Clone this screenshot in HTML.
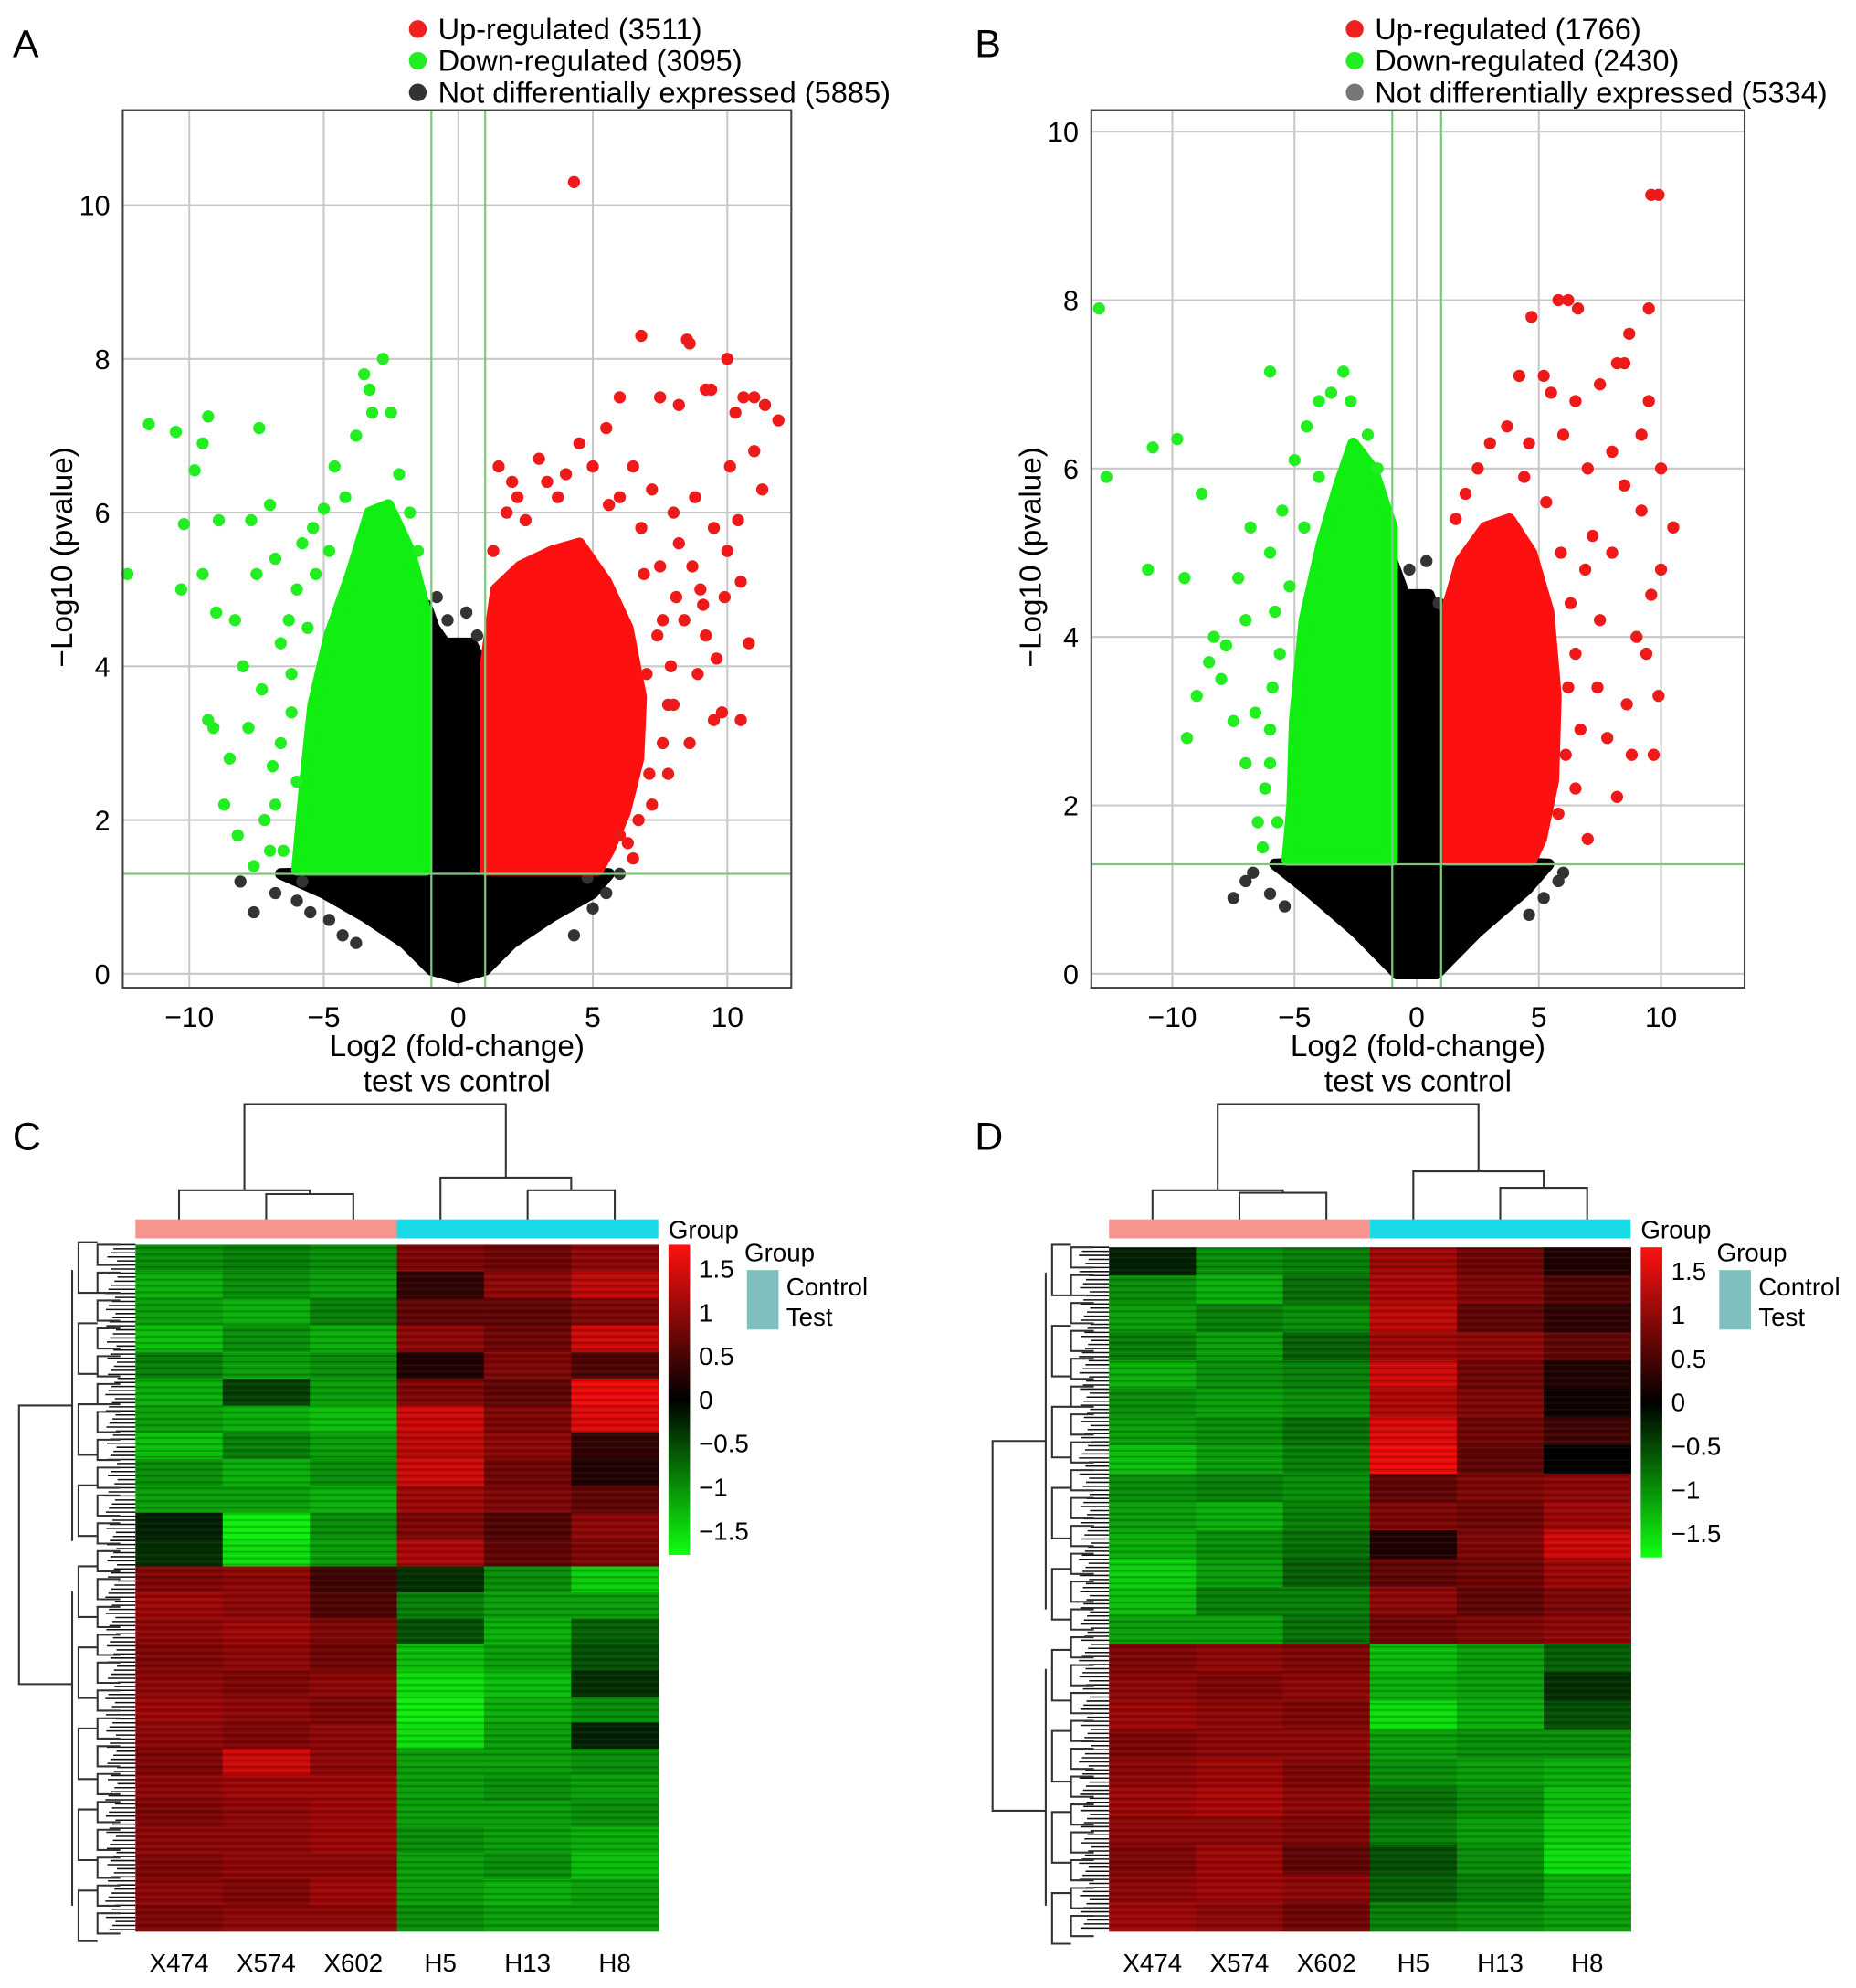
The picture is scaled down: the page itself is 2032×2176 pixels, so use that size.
<!DOCTYPE html>
<html><head><meta charset="utf-8"><style>
html,body{margin:0;padding:0;background:#fff}
svg{display:block;font-family:"Liberation Sans",Arial,sans-serif}
</style></head><body>
<svg id="fig" width="2032" height="2176" viewBox="0 0 1466 1570" preserveAspectRatio="none" xmlns="http://www.w3.org/2000/svg">
<defs>
<pattern id="stripes" width="6" height="5" patternUnits="userSpaceOnUse"><rect x="0" y="0" width="6" height="1.2" fill="#000" opacity="0.22"/><rect x="0" y="2.8" width="6" height="0.8" fill="#fff" opacity="0.06"/></pattern>
<linearGradient id="cbar" x1="0" y1="0" x2="0" y2="1"><stop offset="0" stop-color="#ff1010"/><stop offset="0.5" stop-color="#000"/><stop offset="1" stop-color="#10ff10"/></linearGradient>
</defs>
<g id="root"></g>
</svg>
<script>
// ---------- Volcano A data ----------
const volA_upPts=[[4.3,10.3],[6.8,8.3],[8.5,8.25],[8.6,8.2],[9.2,7.6],[9.4,7.6],[10,8],[10.3,7.3],[10.6,7.5],[11,7.5],[11.4,7.4],[11.9,7.2],[7.5,7.5],[6,7.5],[8.2,7.4],[10.1,6.6],[11,6.8],[10.8,4.3],[9.5,3.3],[9.8,3.4],[10.5,3.3],[8,3.5],[6.5,1.5],[9,5],[10,5.5],[1.5,6.6],[2,6.4],[3,6.7],[4.5,6.9],[5.5,7.1],[6.5,6.6],[7.2,6.3],[8,6],[8.8,6.2],[9.5,5.8],[10.4,5.9],[9.2,4.4],[8.4,4.6],[7.8,2.6],[8.6,3],[7.2,2.2],[6,1.8],[9.9,4.9],[10.5,5.1],[11.3,6.3],[7.5,5.3],[8.2,5.6],[6.8,5.8],[5.6,6.1],[2.5,5.9],[3.7,6.2],[7,3.9],[7.6,4.6],[8.9,3.9],[9.6,4.1],[1.3,5.5],[1.8,6],[2.2,6.2],[3.3,6.4],[4,6.5],[5,6.6],[6,6.2],[6.9,5.2],[7.4,4.4],[7.8,3.5],[7.6,3],[7.1,2.6],[6.7,2],[6.3,1.7],[7.9,4],[8.1,4.9],[8.7,5.3],[9.1,4.8]];
const volA_downPts=[[-12.3,5.2],[-11.5,7.15],[-10.5,7.05],[-9.3,7.25],[-9.8,6.55],[-9.5,6.9],[-7.4,7.1],[-10.2,5.85],[-10.3,5],[-9.5,5.2],[-9,4.7],[-9.3,3.3],[-9.1,3.2],[-8.7,2.2],[-8.2,1.8],[-7.6,1.4],[-2.8,8],[-3.5,7.8],[-3.3,7.6],[-7,6.1],[-5,6.05],[-8,4],[-6,5],[-7.5,5.2],[-8.3,4.6],[-6.6,4.3],[-7.8,3.2],[-6.9,2.7],[-7.2,2],[-6.5,1.6],[-8.5,2.8],[-7.3,3.7],[-6.2,3.4],[-5.8,5.6],[-4.6,6.6],[-3.8,7],[-3.2,7.3],[-2.5,7.3],[-7.7,5.9],[-6.8,5.4],[-8.9,5.9],[-6,2.5],[-6.3,4.6],[-2.2,6.5],[-1.8,6],[-1.5,5.5],[-4.2,6.2],[-5.3,5.2],[-5.6,4.5],[-6.2,3.9],[-6.6,3],[-6.8,2.2],[-7,1.6],[-5.4,5.8],[-4.8,5.5]];
const volA_nsPts=[[-8.1,1.2],[-7.6,0.8],[-6.8,1.05],[-6,0.95],[-5.5,0.8],[-4.8,0.7],[-5.8,1.2],[5.5,1.05],[6,1.3],[5,0.85],[4.3,0.5],[4.8,1.25],[-4.3,0.5],[-3.8,0.4],[-0.4,4.6],[0.3,4.7],[-0.8,4.9],[0.7,4.4]];
const volA_upCore=[[1,1.35],[1,4],[1.4,5],[2.3,5.3],[3.5,5.5],[4.5,5.6],[5.5,5.1],[6.3,4.5],[6.8,3.6],[6.7,2.8],[6.2,2.1],[5.6,1.6],[5.2,1.35]];
const volA_downCore=[[-1.2,1.35],[-1.2,4.7],[-1.8,5.5],[-2.6,6.1],[-3.3,6],[-4,5.2],[-4.8,4.4],[-5.4,3.5],[-5.7,2.5],[-6,1.35]];
const volA_nsCore=[[-6.6,1.3],[-5,1.05],[-3.5,0.75],[-2,0.4],[-1,0.05],[0,-0.05],[1,0.05],[2,0.4],[3.5,0.75],[5,1.05],[5.6,1.3],[1,1.35],[0.9,4],[0.5,4.3],[-0.5,4.3],[-0.9,4.5],[-1.2,4.8],[-1.3,1.35]];
// ---------- Volcano B data ----------
const volB_upPts=[[9.6,9.25],[9.9,9.25],[5.8,8],[6.2,8],[6.6,7.9],[9.5,7.9],[4.7,7.8],[8.7,7.6],[8.2,7.25],[8.5,7.25],[4.2,7.1],[5.2,7.1],[7.5,7],[5.5,6.9],[6.5,6.8],[9.5,6.8],[10,6],[10.5,5.3],[10,4.8],[9.9,3.3],[9.7,2.6],[8.2,2.1],[7,1.6],[7.5,4.2],[8,5],[9,4],[7,6],[3,6.3],[2.5,6],[3.7,6.5],[6,6.4],[8.5,5.8],[9.2,5.5],[9.6,4.5],[8.6,3.2],[7.8,2.8],[6.5,2.2],[6.2,3.4],[7.2,5.2],[8,6.2],[9.2,6.4],[4.6,6.3],[9.4,3.8],[8.8,2.6],[1.6,5.4],[2,5.7],[4.4,5.9],[5.3,5.6],[5.9,5],[6.3,4.4],[6.5,3.8],[6.7,2.9],[6.1,2.6],[5.8,1.9],[6.9,4.8],[7.4,3.4]];
const volB_downPts=[[-13,7.9],[-12.7,5.9],[-10.8,6.25],[-9.8,6.35],[-11,4.8],[-9.5,4.7],[-9.4,2.8],[-8.8,5.7],[-6,7.15],[-3,7.15],[-4,6.8],[-8.3,4],[-8,3.5],[-7.5,3],[-7,2.5],[-6.5,1.8],[-7,4.2],[-6,5],[-5.5,5.5],[-8.5,3.7],[-9,3.3],[-7.8,3.9],[-6.6,3.1],[-6.2,2.2],[-5.8,4.3],[-5,6.1],[-4.5,6.5],[-3.5,6.9],[-2.7,6.8],[-7.3,4.7],[-6.8,5.3],[-6,2.9],[-1.6,6],[-2,6.4],[-4,5.9],[-4.6,5.3],[-5.2,4.6],[-5.6,3.8],[-5.9,3.4],[-6,2.5],[-5.7,1.8],[-6.3,1.5]];
const volB_nsPts=[[-7.5,0.9],[-6.7,1.2],[-7,1.1],[6,1.2],[5.8,1.1],[-6,0.95],[-5.4,0.8],[5.2,0.9],[4.6,0.7],[-0.3,4.8],[0.4,4.9],[0.9,4.4]];
const volB_upCore=[[1.2,1.35],[1.2,4.3],[1.8,4.9],[2.8,5.3],[3.8,5.4],[4.7,5],[5.4,4.3],[5.7,3.3],[5.6,2.3],[5.1,1.6],[4.7,1.35]];
const volB_downCore=[[-1,1.35],[-1,5.3],[-1.8,6],[-2.6,6.3],[-3.2,5.8],[-3.9,5.1],[-4.6,4.2],[-5,3],[-5.1,2],[-5.3,1.35]];
const volB_nsCore=[[-5.8,1.3],[-4.5,1],[-2.5,0.5],[-0.8,0],[0.8,0],[2.5,0.5],[4.5,1],[5.4,1.3],[1.2,1.35],[1.1,4],[0.5,4.5],[-0.5,4.5],[-1,4.9],[-1,1.35]];
const ticksX=[-10,-5,0,5,10];
const ticksYA=[0,2,4,6,8,10];
const ticksYB=[0,2,4,6,8,10];
// ---------- Heatmap data ----------
const colLabels=["X474","X574","X602","H5","H13","H8"];
const heatC_top=[[-0.9,-0.8,-0.9,0.8,0.7,0.9],[-1.1,-0.9,-1.0,0.3,0.9,1.2],[-1.0,-1.1,-0.8,0.6,0.6,0.8],[-1.2,-0.9,-1.1,0.9,0.7,1.3],[-0.8,-1.0,-0.9,0.2,0.8,0.5],[-1.1,-0.4,-1.0,0.8,0.6,1.5],[-1.0,-1.1,-1.2,1.3,0.8,1.4],[-1.2,-0.8,-1.0,1.2,0.9,0.3],[-0.9,-1.1,-0.9,1.3,0.7,0.2],[-1.0,-1.0,-1.1,1.0,0.8,0.6],[-0.2,-1.5,-0.9,0.8,0.5,0.9],[-0.3,-1.4,-1.0,1.1,0.6,0.8]];
const heatC_bot=[[0.8,0.9,0.4,-0.3,-0.9,-1.3],[1.0,0.9,0.5,-0.8,-1.0,-1.0],[0.9,1.0,0.8,-0.5,-1.1,-0.6],[0.8,0.9,0.7,-1.2,-1.0,-0.5],[0.9,0.8,0.9,-1.4,-1.2,-0.3],[1.0,0.9,0.8,-1.5,-1.1,-0.9],[0.9,0.8,0.9,-1.4,-1.0,-0.2],[0.8,1.3,0.9,-1.0,-1.0,-0.9],[0.9,1.0,1.0,-1.0,-0.9,-1.0],[0.8,0.9,1.0,-1.0,-1.0,-0.9],[0.9,0.9,1.0,-0.9,-1.0,-1.1],[0.8,0.9,0.9,-1.0,-0.9,-1.2],[0.9,0.8,1.0,-1.0,-1.1,-1.0],[0.8,0.9,0.9,-0.9,-1.0,-1.0]];
const heatD_top=[[-0.2,-0.9,-0.8,1.0,0.7,0.2],[-0.9,-1.1,-0.7,1.1,0.8,0.5],[-1.0,-0.8,-0.9,1.2,0.6,0.3],[-0.8,-1.0,-0.6,1.0,0.9,0.6],[-1.1,-0.9,-0.8,1.3,0.7,0.2],[-0.9,-1.0,-0.9,1.1,0.8,0.1],[-1.0,-0.9,-0.7,1.4,0.7,0.4],[-1.2,-1.0,-0.8,1.5,0.6,0.0],[-0.9,-0.8,-0.9,0.6,0.8,0.9],[-1.0,-1.1,-0.8,0.8,0.7,1.0],[-1.1,-0.9,-0.7,0.2,0.8,1.3],[-1.3,-1.0,-0.6,0.6,0.7,1.0],[-1.2,-0.8,-0.8,0.9,0.6,0.8],[-1.0,-1.0,-0.7,0.7,0.8,0.9]];
const heatD_bot=[[0.8,0.9,0.8,-1.2,-1.0,-0.6],[0.9,0.8,0.9,-1.1,-1.0,-0.3],[1.0,0.9,0.8,-1.4,-1.1,-0.5],[0.8,0.9,0.9,-1.0,-0.9,-0.9],[0.9,1.0,0.8,-0.9,-1.0,-1.1],[1.0,1.1,0.9,-0.7,-0.9,-1.2],[0.9,0.9,0.8,-0.8,-1.0,-1.3],[0.8,1.0,0.6,-0.5,-0.9,-1.4],[0.9,1.0,0.9,-0.6,-0.8,-1.1],[1.0,0.9,0.7,-0.8,-0.9,-1.0]];
const cbarTicks=[1.5,1,0.5,0,-0.5,-1,-1.5];

const NS="http://www.w3.org/2000/svg";
const root=document.getElementById('root');
function mk(tag,attrs,parent,text){const e=document.createElementNS(NS,tag);for(const k in attrs)e.setAttribute(k,attrs[k]);if(text!==undefined)e.textContent=text;(parent||root).appendChild(e);return e;}

function volcano(cfg){
  const g=mk('g',{});
  
  
  const sx=v=>cfg.x0+v*cfg.kx, sy=v=>cfg.y0-v*cfg.ky;
  ticksX.forEach(t=>{const l=mk('line',{x1:sx(t),x2:sx(t),y1:cfg.top,y2:cfg.bot,stroke:'#c8c8c8','stroke-width':1.5},g);});
  cfg.ticksY.forEach(t=>{const l=mk('line',{x1:cfg.left,x2:cfg.right,y1:sy(t),y2:sy(t),stroke:'#c8c8c8','stroke-width':1.5},g);});
  const poly=(pts,col,nm)=>{const p=mk('polygon',{points:pts.map(q=>sx(q[0])+','+sy(q[1])).join(' '),fill:col,stroke:col,'stroke-width':9,'stroke-linejoin':'round'},g);};
  const dots=(pts,col,nm)=>pts.forEach(q=>{const c=mk('circle',{cx:sx(q[0]),cy:sy(q[1]),r:4.8,fill:col},g);});
  poly(cfg.ns,'#000','not-de-region');
  dots(cfg.nsPts,'#333','not-de-point');
  poly(cfg.down,'#11ee11','down-region');
  poly(cfg.up,'#ff1010','up-region');
  dots(cfg.downPts,'#22ee22','down-point');
  dots(cfg.upPts,'#ee1a1a','up-point');
  [-1,1].forEach(t=>{const l=mk('line',{x1:sx(t),x2:sx(t),y1:cfg.top,y2:cfg.bot,stroke:'#7cc87c','stroke-width':1.6},g);});
  const h=mk('line',{x1:cfg.left,x2:cfg.right,y1:sy(1.3),y2:sy(1.3),stroke:'#7cc87c','stroke-width':1.6},g);
  const fr=mk('rect',{x:cfg.left,y:cfg.top,width:cfg.right-cfg.left,height:cfg.bot-cfg.top,fill:'none',stroke:'#444','stroke-width':1.5},g);
  ticksX.forEach(t=>{const tx=mk('text',{x:sx(t),y:cfg.bot+31,'text-anchor':'middle','font-size':23},g,t<0?'\u2212'+(-t):String(t));});
  cfg.ticksY.forEach(t=>{const tx=mk('text',{x:cfg.left-10,y:sy(t)+8,'text-anchor':'end','font-size':22},g,String(t));});
  const cx=(cfg.left+cfg.right)/2;
  let t=mk('text',{x:cx,y:834,'text-anchor':'middle','font-size':24},g,'Log2 (fold-change)');
  t=mk('text',{x:cx,y:862,'text-anchor':'middle','font-size':24},g,'test vs control');
  t=mk('text',{x:0,y:0,'text-anchor':'middle','font-size':24,transform:`translate(${cfg.left-40},440) rotate(-90)`},g,'\u2212Log10 (pvalue)');
  const L=[['#ee2020','Up-regulated ('+cfg.counts[0]+')'],['#22ee22','Down-regulated ('+cfg.counts[1]+')'],[cfg.nsCol,'Not differentially expressed ('+cfg.counts[2]+')']];
  L.forEach((e,i)=>{const c=mk('circle',{cx:cfg.legX,cy:23+i*25,r:7,fill:e[0]},g);
   const tx=mk('text',{x:cfg.legX+16,y:31+i*25,'font-size':23.5},g,e[1]);});
}
volcano({name:'volcano-a',x0:362,kx:21.25,y0:769,ky:60.7,left:97,right:625,top:87,bot:780,ticksY:ticksYA,up:volA_upCore,down:volA_downCore,ns:volA_nsCore,upPts:volA_upPts,downPts:volA_downPts,nsPts:volA_nsPts,counts:[3511,3095,5885],legX:330,nsCol:'#333'});
volcano({name:'volcano-b',x0:1119,kx:19.3,y0:769,ky:66.5,left:862,right:1378,top:87,bot:780,ticksY:ticksYB,up:volB_upCore,down:volB_downCore,ns:volB_nsCore,upPts:volB_upPts,downPts:volB_downPts,nsPts:volB_nsPts,counts:[1766,2430,5334],legX:1070,nsCol:'#777'});

function col(v){const t=Math.min(1,Math.abs(v)/1.6);const c=Math.round(255*t);return v>=0?`rgb(${c},${Math.round(c*0.04)},${Math.round(c*0.04)})`:`rgb(${Math.round(c*0.05)},${c},${Math.round(c*0.05)})`;}
function heatmap(cfg){
  const g=mk('g',{});
  
  
  const cw=(cfg.right-cfg.left)/6;
  const draw=(rows,y0,y1)=>{const rh=(y1-y0)/rows.length;rows.forEach((r,i)=>r.forEach((v,j)=>{const c=mk('rect',{x:cfg.left+j*cw,y:y0+i*rh,width:cw+0.5,height:rh+0.5,fill:col(v)},g);}));};
  draw(cfg.top_,cfg.top,cfg.split);draw(cfg.bot_,cfg.split,cfg.bot);
  const s=mk('rect',{x:cfg.left,y:cfg.top,width:cfg.right-cfg.left,height:cfg.bot-cfg.top,fill:'url(#stripes)'},g);
  let a=mk('rect',{x:cfg.left,y:963,width:cw*3,height:15,fill:'#f6958e'},g);
  a=mk('rect',{x:cfg.left+cw*3,y:963,width:cw*3,height:15,fill:'#18dbe6'},g);
  let t=mk('text',{x:cfg.right+8,y:978,'font-size':20},g,'Group');
  colLabels.forEach((l,j)=>{const tx=mk('text',{x:cfg.left+(j+0.5)*cw,y:1557,'text-anchor':'middle','font-size':20},g,l);});
  const cx=j=>cfg.left+(j+0.5)*cw;
  const d=cfg.dend;
  const seg=(pts)=>{const p=mk('polyline',{points:pts.map(q=>q.join(',')).join(' '),fill:'none',stroke:'#333','stroke-width':1.5},g);};
  const m12=(cx(1)+cx(2))/2,m45=(cx(4)+cx(5))/2,mL=(cx(0)+m12)/2,mR=(cx(3)+m45)/2;
  seg([[cx(1),963],[cx(1),d[0]],[cx(2),d[0]],[cx(2),963]]);
  seg([[cx(0),963],[cx(0),d[1]],[m12,d[1]],[m12,d[0]]]);
  seg([[cx(4),963],[cx(4),d[2]],[cx(5),d[2]],[cx(5),963]]);
  seg([[cx(3),963],[cx(3),d[3]],[m45,d[3]],[m45,d[2]]]);
  seg([[mL,d[1]],[mL,872],[mR,872],[mR,d[3]]]);
  const L=cfg.left;
  const ry=cfg.rowDend;
  seg([[L-50,ry[0]],[L-92,ry[0]],[L-92,ry[1]],[L-50,ry[1]]]);
  for(let y=cfg.top;y<cfg.bot;y+=3.2){const l=mk('line',{x1:L-14-((y*7)%10),x2:L,y1:y,y2:y,stroke:'#111','stroke-width':1.1},g);}
  for(let y=cfg.top+8;y<cfg.bot;y+=22){seg([[L-12,y-8],[L-30,y-8],[L-30,y+8],[L-12,y+8]]);}
  for(let y=cfg.top+18;y<cfg.bot;y+=64){seg([[L-30,y-20],[L-45,y-20],[L-45,y+20],[L-30,y+20]]);}
  seg([[L-50,cfg.top+20],[L-50,ry[0]*2-cfg.top-20]]);
  seg([[L-50,cfg.split+20],[L-50,cfg.bot-20]]);
  const cb=mk('rect',{x:cfg.right+8,y:cfg.top,width:17,height:245,fill:'url(#cbar)'},g);
  cbarTicks.forEach(v=>{const y=cfg.top+122.5-v*69;const tx=mk('text',{x:cfg.right+32,y:y+7,'font-size':20},g,v<0?'\u2212'+(-v):String(v));});
  t=mk('text',{x:cfg.right+68,y:996,'font-size':20},g,'Group');
  a=mk('rect',{x:cfg.right+70,y:1003,width:25,height:47,fill:'#7fbfbf'},g);
  t=mk('text',{x:cfg.right+101,y:1023,'font-size':20},g,'Control');
  t=mk('text',{x:cfg.right+101,y:1047,'font-size':20},g,'Test');
}
heatmap({name:'heatmap-c',left:107,right:520,top:983,split:1237,bot:1525,top_:heatC_top,bot_:heatC_bot,dend:[943,940,940,930],rowDend:[1110,1330]});
heatmap({name:'heatmap-d',left:876,right:1288,top:985,split:1298,bot:1525,top_:heatD_top,bot_:heatD_bot,dend:[942,940,938,925],rowDend:[1138,1430]});

[['A',10,45],['B',770,45],['C',10,908],['D',770,908]].forEach(p=>{const t=mk('text',{x:p[1],y:p[2],'font-size':31},root,p[0]);});
</script>
</body></html>
